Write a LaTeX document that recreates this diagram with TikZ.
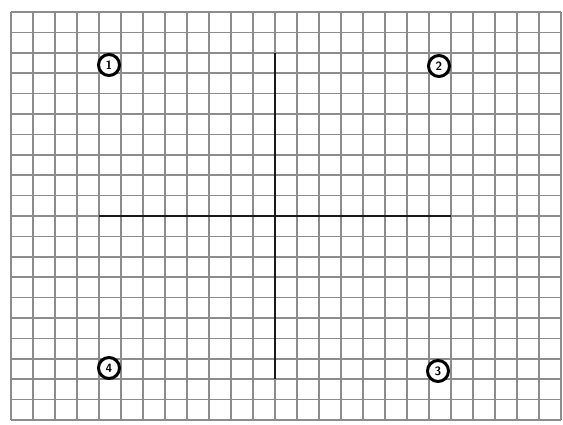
\documentclass[tikz,border=0pt]{standalone}
\begin{document}
\begin{tikzpicture}[x=1pt,y=1pt,
  gridline/.style={draw=black!45,line width=1.5pt},
  crossline/.style={draw=black!90,line width=1.8pt},
  num/.style={circle,draw=black,line width=3pt,minimum size=21pt,inner sep=0pt,font=\sffamily\bfseries\large}]
\useasboundingbox (0,0) rectangle (563,424);
\fill[white] (0,0) rectangle (563,424);
% grid
\foreach \i in {0,...,25}
  \draw[gridline] (11+22*\i,4) -- (11+22*\i,412);
\foreach \j in {0,...,20}
  \draw[gridline] (11,412-20.4*\j) -- (561,412-20.4*\j);
% cross
\coordinate (vt) at (275,371.2);
\coordinate (vb) at (275,44.8);
\coordinate (hl) at (99,208);
\coordinate (hr) at (451,208);
\draw[crossline] (vt) -- (vb);
\draw[crossline] (hl) -- (hr);
% circled numbers
\node[num,fill=white] (n1) at (109,359) {1};
\node[num,fill=white] (n2) at (439,358) {2};
\node[num,fill=white] (n3) at (438,53) {3};
\node[num,fill=white] (n4) at (109,56) {4};
\end{tikzpicture}
\end{document}
